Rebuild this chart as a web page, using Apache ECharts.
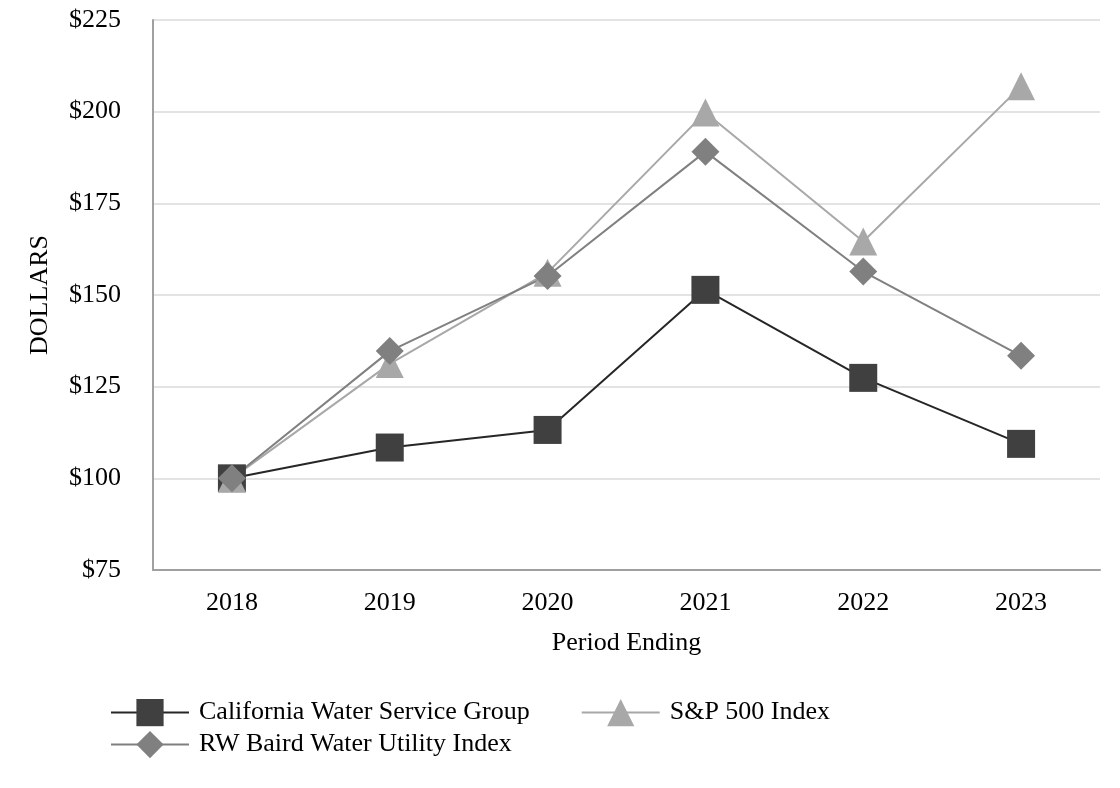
<!DOCTYPE html>
<html>
<head>
<meta charset="utf-8">
<script src="https://cdn.jsdelivr.net/npm/echarts@6/dist/echarts.min.js"></script>
<style>html,body{margin:0;padding:0;background:#fff}#c{width:1120px;height:788px}</style>
</head>
<body>
<div id="c"></div>
<script>
const categories = ['2018','2019','2020','2021','2022','2023'];
const cwtValues = [100, 108.4, 113.2, 151.4, 127.4, 109.4];
const spValues = [100, 131.2, 156.1, 199.8, 164.6, 206.9];
const bairdValues = [100, 134.7, 155.2, 189.1, 156.4, 133.4];
const yTicks = [75, 100, 125, 150, 175, 200, 225];
const seriesNames = ['California Water Service Group', 'S&P 500 Index', 'RW Baird Water Utility Index'];

const font = 'Liberation Serif, Times New Roman, serif';
const legendBase = {
  left: 110,
  padding: 0,
  itemWidth: 78,
  itemHeight: 34,
  itemGap: 51,
  textStyle: { fontFamily: font, fontSize: 26, color: '#000', padding: [0, 0, 0, 5] }
};
const chart = echarts.init(document.getElementById('c'));
chart.setOption({
  animation: false,
  backgroundColor: '#fff',
  textStyle: { fontFamily: font },
  grid: { left: 153, right: 20, top: 20, bottom: 218, containLabel: false },
  xAxis: {
    type: 'category',
    data: categories,
    boundaryGap: true,
    name: 'Period Ending',
    nameLocation: 'middle',
    nameGap: 60,
    nameTextStyle: { fontFamily: font, fontSize: 26, color: '#000' },
    axisLine: { lineStyle: { color: '#a0a0a0', width: 2 } },
    axisTick: { alignWithLabel: true, length: 11, lineStyle: { color: '#a0a0a0', width: 2 } },
    axisLabel: { fontFamily: font, fontSize: 26, color: '#000', margin: 20 },
    splitLine: { show: false }
  },
  yAxis: {
    type: 'value',
    min: yTicks[0],
    max: yTicks[yTicks.length - 1],
    interval: 25,
    name: 'DOLLARS',
    nameLocation: 'middle',
    nameGap: 100,
    nameRotate: 90,
    nameTextStyle: { fontFamily: font, fontSize: 26, color: '#000' },
    axisLine: { show: true, lineStyle: { color: '#a0a0a0', width: 2 } },
    axisTick: { show: false },
    axisLabel: { fontFamily: font, fontSize: 26, color: '#000', margin: 32, formatter: v => '$' + v },
    splitLine: { lineStyle: { color: '#e3e3e3', width: 2 } }
  },
  legend: [
    Object.assign({}, legendBase, { top: 699, data: [seriesNames[0], seriesNames[1]] }),
    Object.assign({}, legendBase, { top: 731, data: [seriesNames[2]] })
  ],
  series: [
    {
      name: seriesNames[0],
      type: 'line',
      data: cwtValues,
      symbol: 'rect',
      symbolSize: 28,
      lineStyle: { color: '#262626', width: 2 },
      itemStyle: { color: '#404040' }
    },
    {
      name: seriesNames[1],
      type: 'line',
      data: spValues,
      symbol: 'triangle',
      symbolSize: 28,
      lineStyle: { color: '#a8a8a8', width: 2 },
      itemStyle: { color: '#a8a8a8' }
    },
    {
      name: seriesNames[2],
      type: 'line',
      data: bairdValues,
      symbol: 'diamond',
      symbolSize: 28,
      lineStyle: { color: '#808080', width: 2 },
      itemStyle: { color: '#808080' }
    }
  ]
});
</script>
</body>
</html>
